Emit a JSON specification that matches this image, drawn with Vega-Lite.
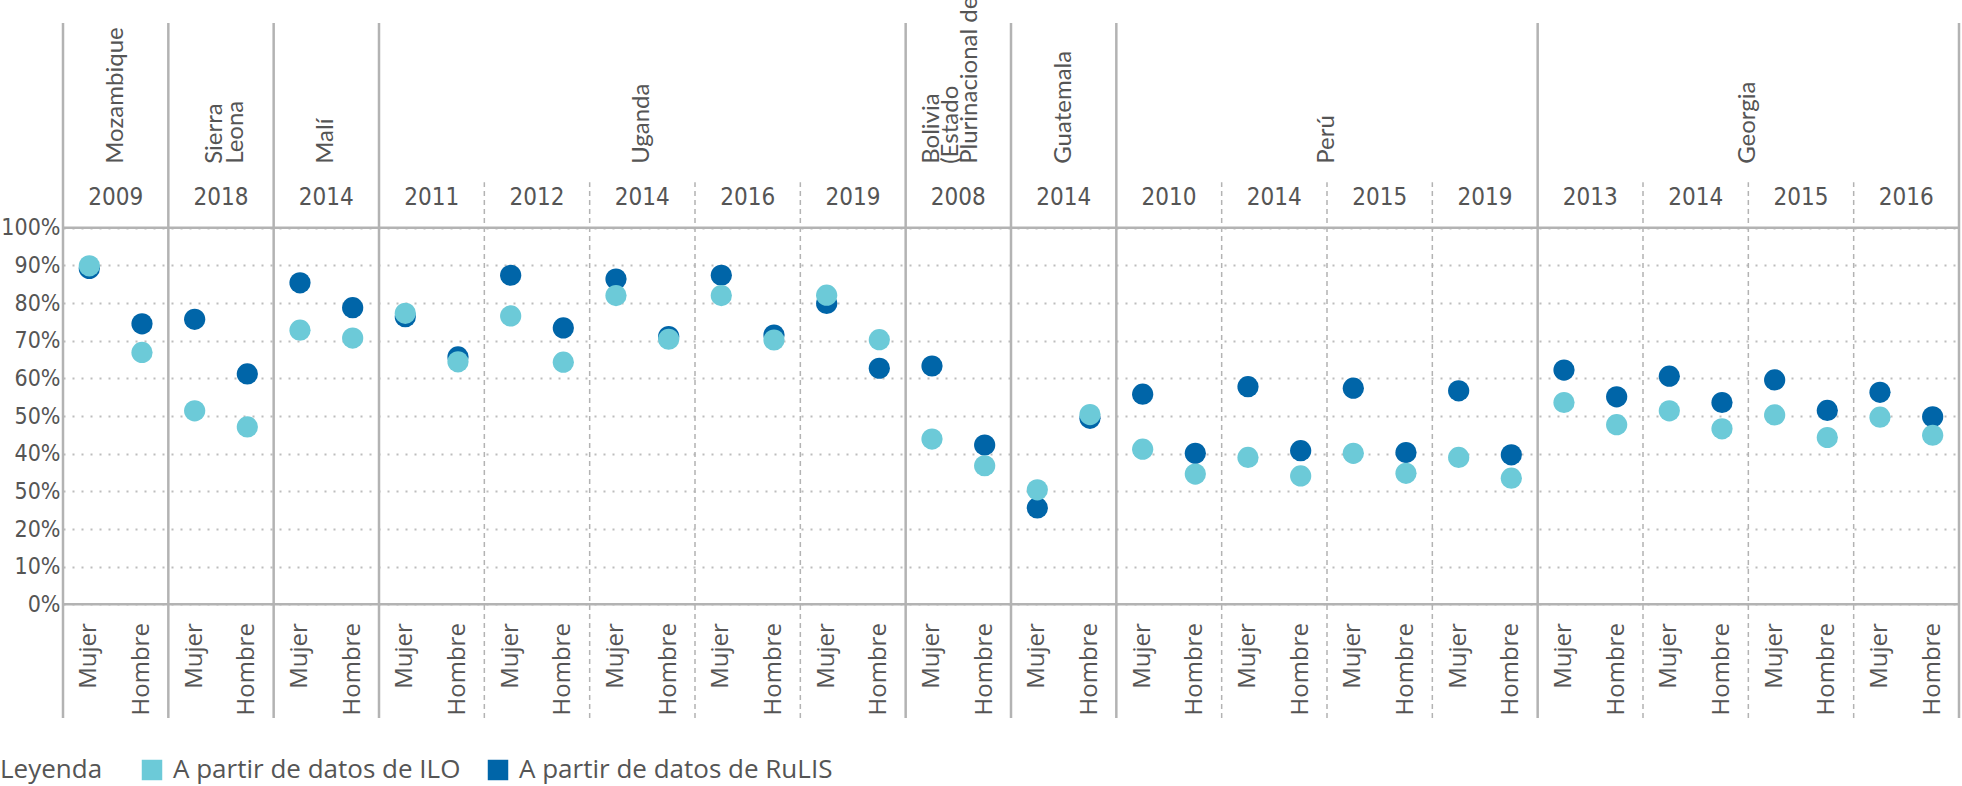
{
  "$schema": "https://vega.github.io/schema/vega-lite/v6.json",
  "width": 1896,
  "height": 695,
  "autosize": {"type": "none"},
  "padding": {"left": 63, "top": 23, "right": 3, "bottom": 68},
  "background": "white",
  "config": {"view": {"stroke": null}, "font": "Open Sans"},
  "datasets": {
    "points": [
      {"grp": "Mozambique 2009", "sex": "Mujer", "source": "RuLIS", "value": 89.2},
      {"grp": "Mozambique 2009", "sex": "Hombre", "source": "RuLIS", "value": 74.5},
      {"grp": "Sierra Leona 2018", "sex": "Mujer", "source": "RuLIS", "value": 75.7},
      {"grp": "Sierra Leona 2018", "sex": "Hombre", "source": "RuLIS", "value": 61.2},
      {"grp": "Malí 2014", "sex": "Mujer", "source": "RuLIS", "value": 85.4},
      {"grp": "Malí 2014", "sex": "Hombre", "source": "RuLIS", "value": 78.8},
      {"grp": "Uganda 2011", "sex": "Mujer", "source": "RuLIS", "value": 76.4},
      {"grp": "Uganda 2011", "sex": "Hombre", "source": "RuLIS", "value": 65.7},
      {"grp": "Uganda 2012", "sex": "Mujer", "source": "RuLIS", "value": 87.4},
      {"grp": "Uganda 2012", "sex": "Hombre", "source": "RuLIS", "value": 73.4},
      {"grp": "Uganda 2014", "sex": "Mujer", "source": "RuLIS", "value": 86.4},
      {"grp": "Uganda 2014", "sex": "Hombre", "source": "RuLIS", "value": 71.1},
      {"grp": "Uganda 2016", "sex": "Mujer", "source": "RuLIS", "value": 87.4},
      {"grp": "Uganda 2016", "sex": "Hombre", "source": "RuLIS", "value": 71.5},
      {"grp": "Uganda 2019", "sex": "Mujer", "source": "RuLIS", "value": 79.9},
      {"grp": "Uganda 2019", "sex": "Hombre", "source": "RuLIS", "value": 62.7},
      {"grp": "Bolivia 2008", "sex": "Mujer", "source": "RuLIS", "value": 63.3},
      {"grp": "Bolivia 2008", "sex": "Hombre", "source": "RuLIS", "value": 42.3},
      {"grp": "Guatemala 2014", "sex": "Mujer", "source": "RuLIS", "value": 25.6},
      {"grp": "Guatemala 2014", "sex": "Hombre", "source": "RuLIS", "value": 49.4},
      {"grp": "Perú 2010", "sex": "Mujer", "source": "RuLIS", "value": 55.8},
      {"grp": "Perú 2010", "sex": "Hombre", "source": "RuLIS", "value": 40.1},
      {"grp": "Perú 2014", "sex": "Mujer", "source": "RuLIS", "value": 57.8},
      {"grp": "Perú 2014", "sex": "Hombre", "source": "RuLIS", "value": 40.8},
      {"grp": "Perú 2015", "sex": "Mujer", "source": "RuLIS", "value": 57.4},
      {"grp": "Perú 2015", "sex": "Hombre", "source": "RuLIS", "value": 40.3},
      {"grp": "Perú 2019", "sex": "Mujer", "source": "RuLIS", "value": 56.7},
      {"grp": "Perú 2019", "sex": "Hombre", "source": "RuLIS", "value": 39.7},
      {"grp": "Georgia 2013", "sex": "Mujer", "source": "RuLIS", "value": 62.2},
      {"grp": "Georgia 2013", "sex": "Hombre", "source": "RuLIS", "value": 55.1},
      {"grp": "Georgia 2014", "sex": "Mujer", "source": "RuLIS", "value": 60.6},
      {"grp": "Georgia 2014", "sex": "Hombre", "source": "RuLIS", "value": 53.6},
      {"grp": "Georgia 2015", "sex": "Mujer", "source": "RuLIS", "value": 59.6},
      {"grp": "Georgia 2015", "sex": "Hombre", "source": "RuLIS", "value": 51.5},
      {"grp": "Georgia 2016", "sex": "Mujer", "source": "RuLIS", "value": 56.3},
      {"grp": "Georgia 2016", "sex": "Hombre", "source": "RuLIS", "value": 49.8},
      {"grp": "Mozambique 2009", "sex": "Mujer", "source": "ILO", "value": 89.9},
      {"grp": "Mozambique 2009", "sex": "Hombre", "source": "ILO", "value": 66.9},
      {"grp": "Sierra Leona 2018", "sex": "Mujer", "source": "ILO", "value": 51.4},
      {"grp": "Sierra Leona 2018", "sex": "Hombre", "source": "ILO", "value": 47.1},
      {"grp": "Malí 2014", "sex": "Mujer", "source": "ILO", "value": 72.8},
      {"grp": "Malí 2014", "sex": "Hombre", "source": "ILO", "value": 70.7},
      {"grp": "Uganda 2011", "sex": "Mujer", "source": "ILO", "value": 77.3},
      {"grp": "Uganda 2011", "sex": "Hombre", "source": "ILO", "value": 64.4},
      {"grp": "Uganda 2012", "sex": "Mujer", "source": "ILO", "value": 76.6},
      {"grp": "Uganda 2012", "sex": "Hombre", "source": "ILO", "value": 64.3},
      {"grp": "Uganda 2014", "sex": "Mujer", "source": "ILO", "value": 82.0},
      {"grp": "Uganda 2014", "sex": "Hombre", "source": "ILO", "value": 70.4},
      {"grp": "Uganda 2016", "sex": "Mujer", "source": "ILO", "value": 82.0},
      {"grp": "Uganda 2016", "sex": "Hombre", "source": "ILO", "value": 70.2},
      {"grp": "Uganda 2019", "sex": "Mujer", "source": "ILO", "value": 82.1},
      {"grp": "Uganda 2019", "sex": "Hombre", "source": "ILO", "value": 70.3},
      {"grp": "Bolivia 2008", "sex": "Mujer", "source": "ILO", "value": 43.9},
      {"grp": "Bolivia 2008", "sex": "Hombre", "source": "ILO", "value": 36.8},
      {"grp": "Guatemala 2014", "sex": "Mujer", "source": "ILO", "value": 30.4},
      {"grp": "Guatemala 2014", "sex": "Hombre", "source": "ILO", "value": 50.4},
      {"grp": "Perú 2010", "sex": "Mujer", "source": "ILO", "value": 41.2},
      {"grp": "Perú 2010", "sex": "Hombre", "source": "ILO", "value": 34.6},
      {"grp": "Perú 2014", "sex": "Mujer", "source": "ILO", "value": 39.0},
      {"grp": "Perú 2014", "sex": "Hombre", "source": "ILO", "value": 34.1},
      {"grp": "Perú 2015", "sex": "Mujer", "source": "ILO", "value": 40.1},
      {"grp": "Perú 2015", "sex": "Hombre", "source": "ILO", "value": 34.8},
      {"grp": "Perú 2019", "sex": "Mujer", "source": "ILO", "value": 39.0},
      {"grp": "Perú 2019", "sex": "Hombre", "source": "ILO", "value": 33.5},
      {"grp": "Georgia 2013", "sex": "Mujer", "source": "ILO", "value": 53.6},
      {"grp": "Georgia 2013", "sex": "Hombre", "source": "ILO", "value": 47.7},
      {"grp": "Georgia 2014", "sex": "Mujer", "source": "ILO", "value": 51.4},
      {"grp": "Georgia 2014", "sex": "Hombre", "source": "ILO", "value": 46.6},
      {"grp": "Georgia 2015", "sex": "Mujer", "source": "ILO", "value": 50.3},
      {"grp": "Georgia 2015", "sex": "Hombre", "source": "ILO", "value": 44.3},
      {"grp": "Georgia 2016", "sex": "Mujer", "source": "ILO", "value": 49.7},
      {"grp": "Georgia 2016", "sex": "Hombre", "source": "ILO", "value": 44.9}
    ],
    "groups": [
      {"grp": "Mozambique 2009", "year": "2009", "first": true},
      {"grp": "Sierra Leona 2018", "year": "2018", "first": true},
      {"grp": "Malí 2014", "year": "2014", "first": true},
      {"grp": "Uganda 2011", "year": "2011", "first": true},
      {"grp": "Uganda 2012", "year": "2012", "first": false},
      {"grp": "Uganda 2014", "year": "2014", "first": false},
      {"grp": "Uganda 2016", "year": "2016", "first": false},
      {"grp": "Uganda 2019", "year": "2019", "first": false},
      {"grp": "Bolivia 2008", "year": "2008", "first": true},
      {"grp": "Guatemala 2014", "year": "2014", "first": true},
      {"grp": "Perú 2010", "year": "2010", "first": true},
      {"grp": "Perú 2014", "year": "2014", "first": false},
      {"grp": "Perú 2015", "year": "2015", "first": false},
      {"grp": "Perú 2019", "year": "2019", "first": false},
      {"grp": "Georgia 2013", "year": "2013", "first": true},
      {"grp": "Georgia 2014", "year": "2014", "first": false},
      {"grp": "Georgia 2015", "year": "2015", "first": false},
      {"grp": "Georgia 2016", "year": "2016", "first": false}
    ],
    "countries": [
      {"grp": "Mozambique 2009", "label": ["Mozambique"], "edge": false},
      {"grp": "Sierra Leona 2018", "label": ["Sierra", "Leona"], "edge": false},
      {"grp": "Malí 2014", "label": ["Malí"], "edge": false},
      {"grp": "Uganda 2014", "label": ["Uganda"], "edge": false},
      {"grp": "Bolivia 2008", "label": ["Bolivia", "(Estado", "Plurinacional de)"], "edge": false},
      {"grp": "Guatemala 2014", "label": ["Guatemala"], "edge": false},
      {"grp": "Perú 2015", "label": ["Perú"], "edge": true},
      {"grp": "Georgia 2015", "label": ["Georgia"], "edge": true}
    ]
  },
  "layer": [
    {
      "data": {"values": [{"v": 0}, {"v": 100}]},
      "mark": {"type": "rule", "color": "#b3b3b3", "strokeWidth": 2.5},
      "encoding": {
        "y": {"field": "v", "type": "quantitative",
          "scale": {"domain": [-30.2, 154.4], "nice": false, "zero": false},
          "axis": {"title": null, "values": [0, 10, 20, 30, 40, 50, 60, 70, 80, 90, 100],
            "labelExpr": "datum.value == 30 ? '50%' : datum.value + '%'",
            "domain": false, "ticks": false, "labelPadding": 3,
            "labelFont": "Liberation Sans Narrow, DejaVu Sans Condensed, sans-serif",
            "labelFontSize": 23, "labelColor": "#555555",
            "grid": true, "gridColor": "#bdbdbd", "gridDash": [2, 7], "gridWidth": 2}}
      }
    },
    {
      "data": {"name": "groups"},
      "transform": [{"filter": "datum.first"}],
      "mark": {"type": "rule", "color": "#b3b3b3", "strokeWidth": 2.5},
      "encoding": {
        "x": {"field": "grp", "type": "nominal", "axis": null, "bandPosition": 0,
          "scale": {"type": "band", "paddingInner": 0, "paddingOuter": 0,
            "domain": ["Mozambique 2009", "Sierra Leona 2018", "Malí 2014", "Uganda 2011", "Uganda 2012", "Uganda 2014", "Uganda 2016", "Uganda 2019", "Bolivia 2008", "Guatemala 2014", "Perú 2010", "Perú 2014", "Perú 2015", "Perú 2019", "Georgia 2013", "Georgia 2014", "Georgia 2015", "Georgia 2016"]}},
        "y": {"datum": -30.2, "type": "quantitative"},
        "y2": {"datum": 154.4}
      }
    },
    {
      "data": {"values": [{"grp": "Georgia 2016"}]},
      "mark": {"type": "rule", "color": "#b3b3b3", "strokeWidth": 2.5},
      "encoding": {
        "x": {"field": "grp", "type": "nominal", "axis": null, "bandPosition": 1,
          "scale": {"type": "band", "paddingInner": 0, "paddingOuter": 0,
            "domain": ["Mozambique 2009", "Sierra Leona 2018", "Malí 2014", "Uganda 2011", "Uganda 2012", "Uganda 2014", "Uganda 2016", "Uganda 2019", "Bolivia 2008", "Guatemala 2014", "Perú 2010", "Perú 2014", "Perú 2015", "Perú 2019", "Georgia 2013", "Georgia 2014", "Georgia 2015", "Georgia 2016"]}},
        "y": {"datum": -30.2, "type": "quantitative"},
        "y2": {"datum": 154.4}
      }
    },
    {
      "data": {"name": "groups"},
      "transform": [{"filter": "!datum.first"}],
      "mark": {"type": "rule", "color": "#b3b3b3", "strokeWidth": 1.5, "strokeDash": [5, 4]},
      "encoding": {
        "x": {"field": "grp", "type": "nominal", "axis": null, "bandPosition": 0,
          "scale": {"type": "band", "paddingInner": 0, "paddingOuter": 0,
            "domain": ["Mozambique 2009", "Sierra Leona 2018", "Malí 2014", "Uganda 2011", "Uganda 2012", "Uganda 2014", "Uganda 2016", "Uganda 2019", "Bolivia 2008", "Guatemala 2014", "Perú 2010", "Perú 2014", "Perú 2015", "Perú 2019", "Georgia 2013", "Georgia 2014", "Georgia 2015", "Georgia 2016"]}},
        "y": {"datum": -30.2, "type": "quantitative"},
        "y2": {"datum": 112.1}
      }
    },
    {
      "data": {"name": "points"},
      "mark": {"type": "point", "filled": true, "size": 450, "opacity": 1, "strokeWidth": 0},
      "encoding": {
        "x": {"field": "grp", "type": "nominal", "axis": null,
          "scale": {"type": "band", "paddingInner": 0, "paddingOuter": 0,
            "domain": ["Mozambique 2009", "Sierra Leona 2018", "Malí 2014", "Uganda 2011", "Uganda 2012", "Uganda 2014", "Uganda 2016", "Uganda 2019", "Bolivia 2008", "Guatemala 2014", "Perú 2010", "Perú 2014", "Perú 2015", "Perú 2019", "Georgia 2013", "Georgia 2014", "Georgia 2015", "Georgia 2016"]}},
        "xOffset": {"field": "sex", "type": "nominal", "scale": {"type": "point", "domain": ["Mujer", "Hombre"], "padding": 0.5}},
        "y": {"field": "value", "type": "quantitative", "title": null},
        "color": {"field": "source", "type": "nominal",
          "scale": {"domain": ["ILO", "RuLIS"], "range": ["#6ccad8", "#0065a8"]},
          "legend": {"title": "Leyenda", "orient": "none", "legendX": -63, "legendY": 734,
            "direction": "horizontal", "titleOrient": "left", "titlePadding": 36,
            "titleFont": "Open Sans", "titleFontSize": 26, "titleFontWeight": "normal", "titleColor": "#555555",
            "labelFont": "Open Sans", "labelFontSize": 26, "labelColor": "#555555", "labelLimit": 0,
            "labelExpr": "'A partir de datos de ' + datum.label",
            "symbolType": "square", "symbolSize": 420, "symbolStrokeWidth": 0, "symbolOpacity": 1,
            "labelOffset": 8, "columnPadding": 24, "padding": 0}}
      }
    },
    {
      "data": {"name": "points"},
      "transform": [{"filter": "datum.source == 'ILO'"}],
      "mark": {"type": "text", "angle": 270, "align": "right", "baseline": "middle", "font": "Open Sans", "fontSize": 24, "color": "#555555"},
      "encoding": {
        "x": {"field": "grp", "type": "nominal", "axis": null,
          "scale": {"type": "band", "paddingInner": 0, "paddingOuter": 0,
            "domain": ["Mozambique 2009", "Sierra Leona 2018", "Malí 2014", "Uganda 2011", "Uganda 2012", "Uganda 2014", "Uganda 2016", "Uganda 2019", "Bolivia 2008", "Guatemala 2014", "Perú 2010", "Perú 2014", "Perú 2015", "Perú 2019", "Georgia 2013", "Georgia 2014", "Georgia 2015", "Georgia 2016"]}},
        "xOffset": {"field": "sex", "type": "nominal", "scale": {"type": "point", "domain": ["Mujer", "Hombre"], "padding": 0.5}},
        "y": {"datum": -5, "type": "quantitative"},
        "text": {"field": "sex", "type": "nominal"}
      }
    },
    {
      "data": {"name": "groups"},
      "mark": {"type": "text", "align": "center", "baseline": "middle", "font": "Liberation Sans Narrow, DejaVu Sans Condensed, sans-serif", "fontSize": 24, "color": "#555555"},
      "encoding": {
        "x": {"field": "grp", "type": "nominal", "axis": null,
          "scale": {"type": "band", "paddingInner": 0, "paddingOuter": 0,
            "domain": ["Mozambique 2009", "Sierra Leona 2018", "Malí 2014", "Uganda 2011", "Uganda 2012", "Uganda 2014", "Uganda 2016", "Uganda 2019", "Bolivia 2008", "Guatemala 2014", "Perú 2010", "Perú 2014", "Perú 2015", "Perú 2019", "Georgia 2013", "Georgia 2014", "Georgia 2015", "Georgia 2016"]}},
        "y": {"datum": 107.9, "type": "quantitative"},
        "text": {"field": "year", "type": "nominal"}
      }
    },
    {
      "data": {"name": "countries"},
      "transform": [{"filter": "!datum.edge && length(datum.label) == 1"}],
      "mark": {"type": "text", "angle": 270, "align": "left", "baseline": "middle", "font": "Lato", "fontSize": 24, "lineHeight": 21, "color": "#555555"},
      "encoding": {
        "x": {"field": "grp", "type": "nominal", "axis": null,
          "scale": {"type": "band", "paddingInner": 0, "paddingOuter": 0,
            "domain": ["Mozambique 2009", "Sierra Leona 2018", "Malí 2014", "Uganda 2011", "Uganda 2012", "Uganda 2014", "Uganda 2016", "Uganda 2019", "Bolivia 2008", "Guatemala 2014", "Perú 2010", "Perú 2014", "Perú 2015", "Perú 2019", "Georgia 2013", "Georgia 2014", "Georgia 2015", "Georgia 2016"]}},
        "y": {"datum": 117, "type": "quantitative"},
        "text": {"field": "label", "type": "nominal"}
      }
    },
    {
      "data": {"name": "countries"},
      "transform": [{"filter": "length(datum.label) == 2"}],
      "mark": {"type": "text", "angle": 270, "align": "left", "baseline": "middle", "font": "Lato", "fontSize": 24, "lineHeight": 21, "dy": -6, "color": "#555555"},
      "encoding": {
        "x": {"field": "grp", "type": "nominal", "axis": null,
          "scale": {"type": "band", "paddingInner": 0, "paddingOuter": 0,
            "domain": ["Mozambique 2009", "Sierra Leona 2018", "Malí 2014", "Uganda 2011", "Uganda 2012", "Uganda 2014", "Uganda 2016", "Uganda 2019", "Bolivia 2008", "Guatemala 2014", "Perú 2010", "Perú 2014", "Perú 2015", "Perú 2019", "Georgia 2013", "Georgia 2014", "Georgia 2015", "Georgia 2016"]}},
        "y": {"datum": 117, "type": "quantitative"},
        "text": {"field": "label", "type": "nominal"}
      }
    },
    {
      "data": {"name": "countries"},
      "transform": [{"filter": "length(datum.label) == 3"}],
      "mark": {"type": "text", "angle": 270, "align": "left", "baseline": "middle", "font": "Lato", "fontSize": 24, "lineHeight": 19, "dy": -26, "color": "#555555"},
      "encoding": {
        "x": {"field": "grp", "type": "nominal", "axis": null,
          "scale": {"type": "band", "paddingInner": 0, "paddingOuter": 0,
            "domain": ["Mozambique 2009", "Sierra Leona 2018", "Malí 2014", "Uganda 2011", "Uganda 2012", "Uganda 2014", "Uganda 2016", "Uganda 2019", "Bolivia 2008", "Guatemala 2014", "Perú 2010", "Perú 2014", "Perú 2015", "Perú 2019", "Georgia 2013", "Georgia 2014", "Georgia 2015", "Georgia 2016"]}},
        "y": {"datum": 117, "type": "quantitative"},
        "text": {"field": "label", "type": "nominal"}
      }
    },
    {
      "data": {"name": "countries"},
      "transform": [{"filter": "datum.edge"}],
      "mark": {"type": "text", "angle": 270, "align": "left", "baseline": "middle", "font": "Lato", "fontSize": 24, "lineHeight": 21, "color": "#555555"},
      "encoding": {
        "x": {"field": "grp", "type": "nominal", "axis": null, "bandPosition": 0,
          "scale": {"type": "band", "paddingInner": 0, "paddingOuter": 0,
            "domain": ["Mozambique 2009", "Sierra Leona 2018", "Malí 2014", "Uganda 2011", "Uganda 2012", "Uganda 2014", "Uganda 2016", "Uganda 2019", "Bolivia 2008", "Guatemala 2014", "Perú 2010", "Perú 2014", "Perú 2015", "Perú 2019", "Georgia 2013", "Georgia 2014", "Georgia 2015", "Georgia 2016"]}},
        "y": {"datum": 117, "type": "quantitative"},
        "text": {"field": "label", "type": "nominal"}
      }
    }
  ]
}
